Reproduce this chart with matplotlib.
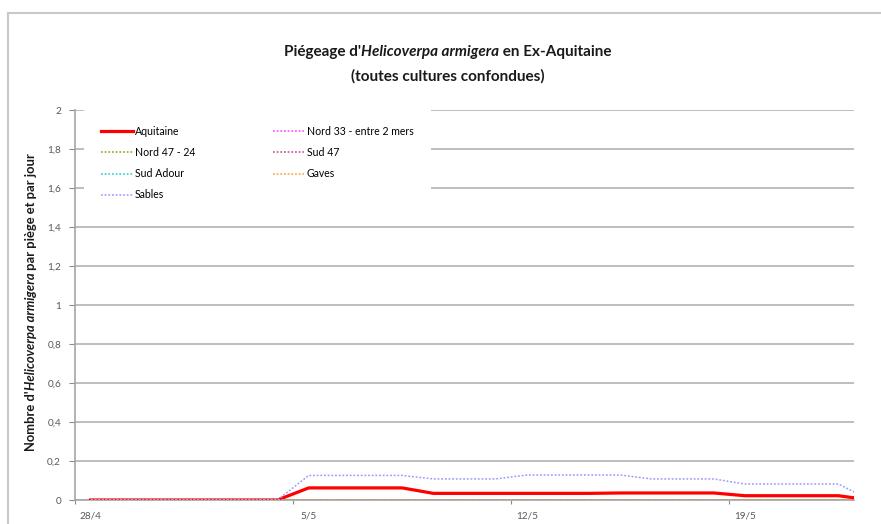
import matplotlib
matplotlib.use('Agg')
import matplotlib.pyplot as plt
from matplotlib.lines import Line2D
from matplotlib.transforms import IdentityTransform
import numpy as np

# daily values, 28/4 -> 23/5
dates = ['28/4', '29/4', '30/4', '1/5', '2/5', '3/5', '4/5', '5/5', '6/5', '7/5',
         '8/5', '9/5', '10/5', '11/5', '12/5', '13/5', '14/5', '15/5', '16/5',
         '17/5', '18/5', '19/5', '20/5', '21/5', '22/5', '23/5']
aquitaine = [0, 0, 0, 0, 0, 0, 0, 0.062, 0.062, 0.062, 0.062, 0.034, 0.034, 0.034,
             0.034, 0.034, 0.034, 0.036, 0.036, 0.036, 0.036, 0.022, 0.022, 0.022,
             0.022, 0]
nord33 = [0] * 26
nord47 = [0] * 26
sud47 = [0] * 26
sud_adour = [0] * 26
gaves = [0] * 26
sables = [0, 0, 0, 0, 0, 0, 0, 0.126, 0.126, 0.126, 0.126, 0.108, 0.108, 0.108,
          0.128, 0.128, 0.128, 0.128, 0.108, 0.108, 0.108, 0.082, 0.082, 0.082,
          0.082, 0]
shown_ticks = ['28/4', '5/5', '12/5', '19/5']

FONT = 'Lato'
W, H = 881, 524
fig = plt.figure(figsize=(W / 100, H / 100), dpi=100)
ax = fig.add_axes([75 / W, 1 - 500 / H, (854 - 75) / W, (500 - 110) / H])

x = np.arange(len(dates)) + 0.5
ax.plot(x, aquitaine, color='#FF0000', lw=2.3, label='Aquitaine', zorder=3)
ax.plot(x, nord33, color='#FF44FF', lw=1.1, ls=(0, (1.2, 1.2)), label='Nord 33 - entre 2 mers', zorder=3)
ax.plot(x, nord47, color='#9C9C2A', lw=1.1, ls=(0, (1.2, 1.2)), label='Nord 47 - 24', zorder=3)
ax.plot(x, sud47, color='#C2498A', lw=1.1, ls=(0, (1.2, 1.2)), label='Sud 47', zorder=3)
ax.plot(x, sud_adour, color='#33CCCC', lw=1.1, ls=(0, (1.2, 1.2)), label='Sud Adour', zorder=3)
ax.plot(x, gaves, color='#F7A442', lw=1.1, ls=(0, (1.2, 1.2)), label='Gaves', zorder=3)
ax.plot(x, sables, color='#9A9AFF', lw=1.1, ls=(0, (1.2, 1.2)), label='Sables', zorder=3)

ax.set_xlim(0, 25)
ax.set_ylim(0, 2)
yt = np.round(np.arange(0, 2.01, 0.2), 1)
ax.set_yticks(yt)
ax.set_yticklabels([('%g' % v).replace('.', ',') for v in yt])
major = [dates.index(d) for d in shown_ticks]
ax.set_xticks(major)
ax.set_xticklabels([])
ax.set_xticks([m + 0.5 for m in major], minor=True)
ax.set_xticklabels(shown_ticks, minor=True)
ax.tick_params(axis='x', which='minor', length=0, pad=8)
ax.tick_params(axis='x', which='major', length=3, color='#8C8C8C')
ax.tick_params(axis='y', length=4, color='#8C8C8C', pad=6)
ax.tick_params(which='both', labelsize=7.2, labelcolor='#595959')
for lab in ax.get_xticklabels(minor=True) + ax.get_yticklabels():
    lab.set_fontfamily(FONT)
ax.grid(axis='y', color='#B3B3B3', lw=1.2)
ax.set_axisbelow(True)
for s in ['top', 'right']:
    ax.spines[s].set_visible(False)
for s in ['left', 'bottom']:
    ax.spines[s].set_color('#A6A6A6')
    ax.spines[s].set_linewidth(1.2)

handles, labels = ax.get_legend_handles_labels()
order = [0, 2, 4, 6, 1, 3, 5]
leg = ax.legend([handles[i] for i in order], [labels[i] for i in order], ncol=2,
                loc='upper left', bbox_to_anchor=(0.015, 0.997), frameon=True,
                fancybox=False, edgecolor='none', facecolor='white', framealpha=1,
                prop={'family': FONT, 'size': 7.6}, handlelength=2.95, handletextpad=0.2,
                columnspacing=7.4, labelspacing=0.96, borderpad=0.9)
leg.set_zorder(4)
leg.get_frame().set_boxstyle('square', pad=0.8)

# figure border (chart area)
fig.add_artist(Line2D([8 / W, 1], [1 - 13 / H, 1 - 13 / H], color='#C8C8C8', lw=1.5))
fig.add_artist(Line2D([8 / W, 8 / W], [0, 1 - 13 / H], color='#C8C8C8', lw=1.5))

renderer = fig.canvas.get_renderer()


def seg_width(txt, style, size):
    a = fig.text(0, 0, txt + '|', fontsize=size, fontfamily=FONT, fontweight='bold', fontstyle=style)
    b = fig.text(0, 0, '|', fontsize=size, fontfamily=FONT, fontweight='bold', fontstyle=style)
    w = a.get_window_extent(renderer).width - b.get_window_extent(renderer).width
    a.remove()
    b.remove()
    return w


def rich(parts, cx, cy, size, rotation=0):
    widths = [seg_width(t, s, size) for t, s in parts]
    pos = -sum(widths) / 2
    for (t, s), w in zip(parts, widths):
        if rotation == 0:
            xy = (cx + pos, cy)
        else:
            xy = (cx, cy + pos)
        fig.text(xy[0], xy[1], t, transform=IdentityTransform(), fontsize=size,
                 fontfamily=FONT, fontweight='bold', fontstyle=s, rotation=rotation,
                 rotation_mode='anchor', ha='left', va='baseline', color='#1A1A1A')
        pos += w


rich([("Piégeage d'", 'normal'), ('Helicoverpa armigera', 'italic'),
      (' en Ex-Aquitaine', 'normal')], 448, H - 56, 11)
rich([('(toutes cultures confondues)', 'normal')], 448, H - 81, 11)
rich([("Nombre d'", 'normal'), ('Helicoverpa armigera', 'italic'),
      (' par piège et par jour', 'normal')], 35, H - 302, 9.4, rotation=90)

fig.savefig('out.png', dpi=100)
